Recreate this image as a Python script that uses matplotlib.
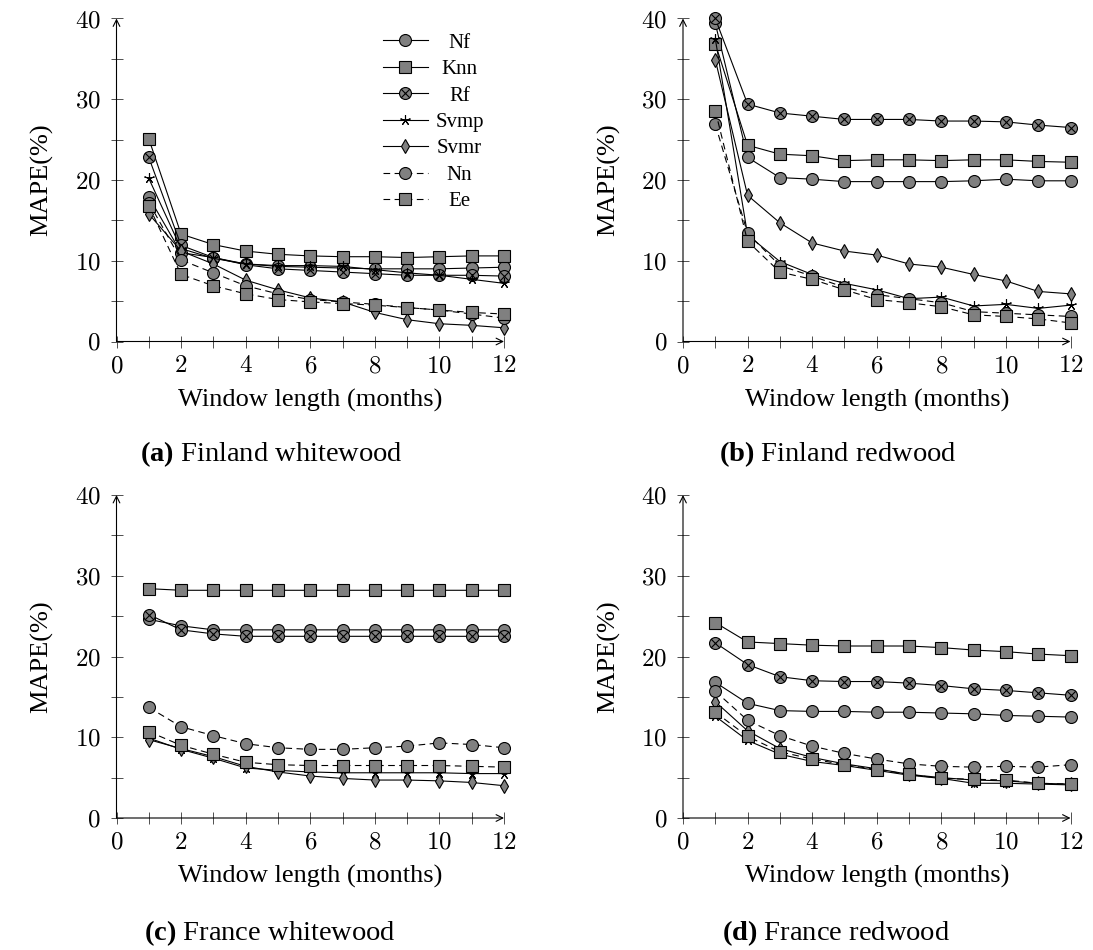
import numpy as np
import matplotlib
matplotlib.use("Agg")
import matplotlib.pyplot as plt
from matplotlib.path import Path
from matplotlib.ticker import FixedLocator, FuncFormatter

plt.rcParams['font.family'] = ['Liberation Serif', 'DejaVu Serif']
plt.rcParams['mathtext.fontset'] = 'cm'
plt.rcParams['mathtext.rm'] = 'Liberation Serif'
plt.rcParams['mathtext.bf'] = 'Liberation Serif:bold'

# ---------------- data ----------------
window = [1, 2, 3, 4, 5, 6, 7, 8, 9, 10, 11, 12]
methods = ["Nf", "Knn", "Rf", "Svmp", "Svmr", "Nn", "Ee"]

# (a) Finland whitewood
fw_nf   = [17.9, 11.0, 10.4, 9.6, 9.3, 9.2, 9.1, 9.0, 9.0, 9.0, 9.1, 9.2]
fw_knn  = [25.1, 13.3, 12.0, 11.2, 10.8, 10.6, 10.5, 10.5, 10.4, 10.5, 10.6, 10.6]
fw_rf   = [22.8, 11.9, 10.4, 9.5, 9.0, 8.8, 8.6, 8.4, 8.2, 8.2, 8.2, 8.1]
fw_svmp = [20.2, 11.5, 10.3, 9.6, 9.4, 9.4, 9.3, 8.9, 8.5, 8.2, 7.7, 7.2]
fw_svmr = [15.8, 11.2, 9.6, 7.6, 6.4, 5.4, 4.9, 3.6, 2.7, 2.2, 2.0, 1.7]
fw_nn   = [17.2, 10.1, 8.5, 6.9, 5.9, 5.2, 4.9, 4.6, 4.2, 3.9, 3.4, 2.9]
fw_ee   = [16.8, 8.3, 6.9, 5.9, 5.2, 4.9, 4.7, 4.5, 4.2, 3.9, 3.6, 3.4]

# (b) Finland redwood
fr_nf   = [39.4, 22.8, 20.3, 20.1, 19.8, 19.8, 19.8, 19.8, 19.9, 20.1, 19.9, 19.9]
fr_knn  = [36.9, 24.3, 23.2, 23.0, 22.4, 22.5, 22.5, 22.4, 22.5, 22.5, 22.3, 22.2]
fr_rf   = [40.0, 29.4, 28.3, 27.9, 27.5, 27.5, 27.5, 27.3, 27.3, 27.2, 26.8, 26.5]
fr_svmp = [37.5, 13.2, 9.9, 8.3, 7.2, 6.4, 5.3, 5.5, 4.4, 4.6, 4.1, 4.5]
fr_svmr = [34.9, 18.1, 14.7, 12.2, 11.2, 10.7, 9.6, 9.2, 8.3, 7.5, 6.2, 5.9]
fr_nn   = [26.9, 13.4, 9.4, 8.1, 6.7, 5.8, 5.3, 4.8, 3.7, 3.5, 3.3, 3.1]
fr_ee   = [28.6, 12.4, 8.6, 7.7, 6.4, 5.2, 4.8, 4.3, 3.3, 3.1, 2.8, 2.3]

# (c) France whitewood
cw_nf   = [24.6, 23.8, 23.3, 23.3, 23.3, 23.3, 23.3, 23.3, 23.3, 23.3, 23.3, 23.3]
cw_knn  = [28.4, 28.2, 28.2, 28.2, 28.2, 28.2, 28.2, 28.2, 28.2, 28.2, 28.2, 28.2]
cw_rf   = [25.2, 23.3, 22.8, 22.5, 22.5, 22.5, 22.5, 22.5, 22.5, 22.5, 22.5, 22.5]
cw_svmp = [9.9, 8.5, 7.4, 6.2, 5.9, 5.7, 5.6, 5.6, 5.6, 5.6, 5.5, 5.5]
cw_svmr = [9.7, 8.6, 7.6, 6.4, 5.7, 5.2, 4.9, 4.7, 4.7, 4.6, 4.4, 4.0]
cw_nn   = [13.7, 11.3, 10.2, 9.2, 8.7, 8.5, 8.5, 8.7, 8.9, 9.3, 9.1, 8.7]
cw_ee   = [10.7, 9.0, 7.9, 6.9, 6.6, 6.5, 6.5, 6.5, 6.5, 6.5, 6.4, 6.3]

# (d) France redwood
cr_nf   = [16.8, 14.2, 13.3, 13.2, 13.2, 13.1, 13.1, 13.0, 12.9, 12.7, 12.6, 12.5]
cr_knn  = [24.2, 21.8, 21.6, 21.4, 21.3, 21.3, 21.3, 21.1, 20.8, 20.6, 20.3, 20.1]
cr_rf   = [21.7, 19.0, 17.5, 17.0, 16.9, 16.9, 16.7, 16.4, 16.0, 15.8, 15.5, 15.2]
cr_svmp = [12.6, 9.6, 7.9, 7.0, 6.5, 5.9, 5.3, 4.9, 4.3, 4.3, 4.2, 4.1]
cr_svmr = [14.4, 10.8, 8.6, 7.5, 6.7, 6.1, 5.4, 5.0, 4.7, 4.6, 4.3, 4.2]
cr_nn   = [15.7, 12.1, 10.2, 8.9, 8.0, 7.3, 6.7, 6.4, 6.3, 6.4, 6.3, 6.6]
cr_ee   = [13.1, 10.1, 8.2, 7.3, 6.6, 6.0, 5.4, 4.9, 4.8, 4.7, 4.3, 4.2]

panels = [
    ("a", "Finland whitewood", [fw_nf, fw_knn, fw_rf, fw_svmp, fw_svmr, fw_nn, fw_ee]),
    ("b", "Finland redwood",   [fr_nf, fr_knn, fr_rf, fr_svmp, fr_svmr, fr_nn, fr_ee]),
    ("c", "France whitewood",  [cw_nf, cw_knn, cw_rf, cw_svmp, cw_svmr, cw_nn, cw_ee]),
    ("d", "France redwood",    [cr_nf, cr_knn, cr_rf, cr_svmp, cr_svmr, cr_nn, cr_ee]),
]
x_ticks = [0, 2, 4, 6, 8, 10, 12]
y_ticks = [0, 10, 20, 30, 40]

# ---------------- styles ----------------
d = np.sqrt(0.5)
otimes = Path.make_compound_path(
    Path.unit_circle(),
    Path([[-d, -d], [d, d]], [Path.MOVETO, Path.LINETO]),
    Path([[-d, d], [d, -d]], [Path.MOVETO, Path.LINETO]),
)
GRAY = "#808080"
DASH = (0, (6, 4))
styles = [
    dict(marker="o", ms=8.6, ls="-"),
    dict(marker="s", ms=8.0, ls="-"),
    dict(marker=otimes, ms=8.6, ls="-"),
    dict(marker=(5, 2, 0), ms=7.5, ls="-"),
    dict(marker="d", ms=7.0, ls="-"),
    dict(marker="o", ms=8.6, ls=DASH),
    dict(marker="s", ms=8.0, ls=DASH),
]

W, H = 1093, 950
fig = plt.figure(figsize=(W / 100, H / 100), dpi=100)

ax_w = 387.5 / W
ax_h = 323.0 / H
lefts = [116.5 / W, 683.0 / W]
bottoms = [(H - 341.5) / H, (H - 818.0) / H]
positions = [(lefts[0], bottoms[0]), (lefts[1], bottoms[0]),
             (lefts[0], bottoms[1]), (lefts[1], bottoms[1])]
cap_x = [271 / W, 838 / W, 270 / W, 836 / W]
cap_y = [(H - 454) / H, (H - 454) / H, (H - 933) / H, (H - 933) / H]

legend_ax = None
for i, (tag, name, series) in enumerate(panels):
    l, b = positions[i]
    ax = fig.add_axes([l, b, ax_w, ax_h])
    for vals, st, lab in zip(series, styles, methods):
        ax.plot(window, vals, color="black", lw=0.8, linestyle=st["ls"],
                marker=st["marker"], markersize=st["ms"],
                markerfacecolor=GRAY, markeredgecolor="black",
                markeredgewidth=0.8, clip_on=False, label=lab,
                dash_capstyle="butt")
    ax.set_xlim(0, 12)
    ax.set_ylim(0, 40)
    for s in ax.spines.values():
        s.set_visible(False)
    ax.annotate("", xy=(1.0, 0), xytext=(0, 0), xycoords="axes fraction",
                arrowprops=dict(arrowstyle="->", lw=0.8, color="black",
                                shrinkA=0, shrinkB=0, mutation_scale=12))
    ax.annotate("", xy=(0, 1.0), xytext=(0, 0), xycoords="axes fraction",
                arrowprops=dict(arrowstyle="->", lw=0.8, color="black",
                                shrinkA=0, shrinkB=0, mutation_scale=12))
    ax.xaxis.set_major_locator(FixedLocator(x_ticks))
    ax.xaxis.set_minor_locator(FixedLocator([1, 3, 5, 7, 9, 11]))
    ax.yaxis.set_major_locator(FixedLocator(y_ticks))
    ax.yaxis.set_minor_locator(FixedLocator([5, 15, 25, 35]))
    fmt = FuncFormatter(lambda v, p: r"$%d$" % int(round(v)))
    ax.xaxis.set_major_formatter(fmt)
    ax.yaxis.set_major_formatter(fmt)
    ax.tick_params(which="both", direction="inout", length=8, width=0.6,
                   color="#333333", labelsize=18)
    ax.tick_params(axis="y", which="major", pad=7.5)
    ax.tick_params(axis="x", which="major", pad=6)
    ax.set_xlabel("Window length (months)", fontsize=19, labelpad=8)
    ax.set_ylabel("MAPE(%)", fontsize=19, labelpad=15)
    ax.patch.set_alpha(0)
    fig.text(cap_x[i], cap_y[i], r"$\mathbf{(%s)}$ %s" % (tag, name),
             fontsize=20.5, ha="center", va="center", math_fontfamily="custom")
    if i == 0:
        legend_ax = ax

leg = legend_ax.legend(loc="upper left", bbox_to_anchor=(0.688, 0.955),
                       frameon=False, fontsize=15, handlelength=2.15,
                       handletextpad=0.35, labelspacing=0.33, borderpad=0,
                       borderaxespad=0, numpoints=1)

fig.canvas.draw()
r = fig.canvas.get_renderer()
texts = leg.get_texts()
ws = [t.get_window_extent(r).width for t in texts]
wmax = max(ws)
for t, w in zip(texts, ws):
    t.set_x((wmax - w) / 2.0)

fig.savefig("out.png", dpi=100)
